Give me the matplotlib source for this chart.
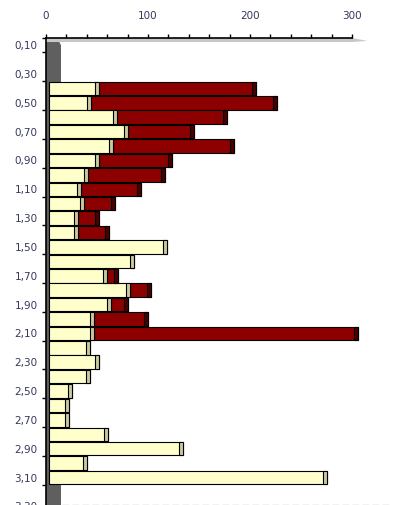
import numpy as np
import matplotlib.pyplot as plt
from matplotlib.patches import Polygon
from matplotlib.lines import Line2D

# depth classes (rows, top to bottom)
depths = ['0,10', '0,20', '0,30', '0,40', '0,50', '0,60', '0,70', '0,80', '0,90',
          '1,00', '1,10', '1,20', '1,30', '1,40', '1,50', '1,60', '1,70', '1,80',
          '1,90', '2,00', '2,10', '2,20', '2,30', '2,40', '2,50', '2,60', '2,70',
          '2,80', '2,90', '3,00', '3,10', '3,20', '3,30']

# first series (cream)
cream = [0, 0, 0, 52.0, 44.1, 69.9, 80.7, 66.0, 52.3, 40.9, 34.3, 37.6, 31.1,
         31.1, 118.3, 86.0, 60.1, 82.6, 63.7, 47.4, 46.8, 43.4, 52.3, 43.4,
         25.8, 22.8, 22.8, 61.1, 134.6, 40.5, 275.2, 0, 0]

# second series (dark red), stacked on the first
red = [0, 0, 0, 153.6, 182.7, 107.3, 64.4, 118.3, 70.9, 75.8, 59.1, 30.0, 20.6,
       30.4, 0, 0, 10.2, 20.6, 16.7, 52.6, 259.4, 0, 0, 0, 0, 0, 0, 0, 0, 0, 0,
       0, 0]

x_major = [0, 100, 200, 300]

label_color = '#34385a'
font = 'DejaVu Sans'
fs = 7.5

fig = plt.figure(figsize=(4, 5.05), dpi=100)
ax = fig.add_axes([46 / 400, -30 / 505, 306 / 400, 497 / 505])

y = np.arange(len(depths))
cream = np.array(cream)
red = np.array(red)
start = 2.6   # 3d offset of the bar faces
side = 3.9    # width of the dark side strip
h = 0.94

has_c = cream > 0
has_r = red > 0

# cream bars + side strip
ax.barh(y[has_c], cream[has_c] - start, left=start, height=h,
        color='#ffffcc', edgecolor='black', linewidth=0.8, zorder=3, clip_on=False)
ax.barh(y[has_c], side, left=cream[has_c] - side, height=h,
        color='#c9c9a0', edgecolor='black', linewidth=0.8, zorder=4, clip_on=False)

# red bars + side strip
tot = cream + red
ax.barh(y[has_r], red[has_r], left=cream[has_r], height=h,
        color='#8c0000', edgecolor='black', linewidth=0.8, zorder=3, clip_on=False)
ax.barh(y[has_r], side, left=tot[has_r] - side, height=h,
        color='#4a0000', edgecolor='black', linewidth=0.8, zorder=4, clip_on=False)

ymax = 33.99
ax.set_xlim(0, 300)
ax.set_ylim(ymax, -0.5)

# gray wall on the left
wall = Polygon([(0, -0.5), (11, -0.5), (14.7, 0.0), (14.7, ymax), (0, ymax)],
               closed=True, facecolor='#5f5f5f', edgecolor='none', zorder=1,
               clip_on=False)
ax.add_patch(wall)

# floor shadow under the top axis
floor = Polygon([(0, -0.5), (300, -0.5), (315, -0.3), (300, -0.22), (0, -0.22)],
                closed=True, facecolor='#c8c8c8', edgecolor='none', zorder=1,
                clip_on=False)
ax.add_patch(floor)

for s in ['right', 'bottom']:
    ax.spines[s].set_visible(False)
for s in ['top', 'left']:
    ax.spines[s].set_linewidth(1.2)
    ax.spines[s].set_zorder(5)

ax.xaxis.tick_top()
ax.set_xticks(x_major)
ax.set_xticks(np.arange(0, 301, 20), minor=True)
ax.set_xticklabels([str(v) for v in x_major], fontfamily=font, fontsize=fs,
                   color=label_color)
ax.tick_params(axis='x', which='both', direction='out', length=3, width=1,
               top=True, bottom=False)
ax.tick_params(axis='x', which='major', pad=9)

ax.set_yticks(y[::2])
ax.set_yticklabels(depths[::2], fontfamily=font, fontsize=fs, color=label_color)
ax.set_yticks(np.concatenate([[-0.5], y[::2] + 0.5]), minor=True)
ax.tick_params(axis='y', which='major', length=0, pad=6)
ax.tick_params(axis='y', which='minor', direction='out', length=3, width=1)

ax.set_facecolor('none')

# faint frame edges of the original export
fig.add_artist(Line2D([399.5 / 400, 399.5 / 400], [0, 1], color='#f0f0f0', lw=0.8))
fig.add_artist(Line2D([62 / 400, 390 / 400], [1.5 / 505, 1.5 / 505], color='#f2f2f2',
                      lw=0.8, linestyle=(0, (6, 3))))

fig.savefig('out.png', dpi=100)
